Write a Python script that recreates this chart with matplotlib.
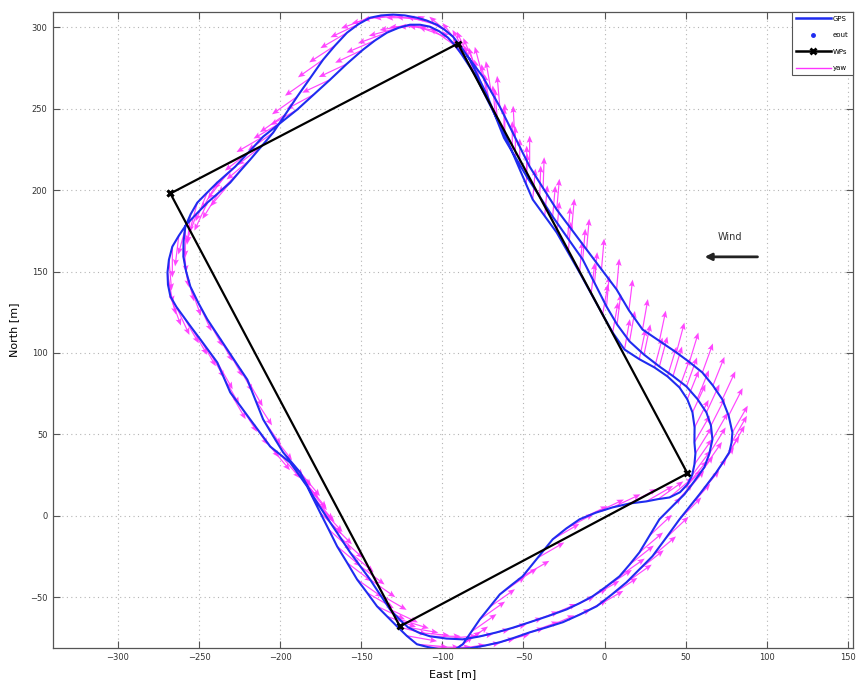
import numpy as np
import matplotlib
matplotlib.use("Agg")
import matplotlib.pyplot as plt
from matplotlib.lines import Line2D

# ---- data (metres) ----
gps_east = [
    -96.6, -92.0, -87.4, -82.2, -76.9, -70.8, -64.6, -57.6, -50.5, -41.3,
    -32.0, -23.7, -15.4, -5.3, 4.9, 15.4, 25.8, 33.0, 40.0, 46.5,
    51.1, 54.0, 55.4, 56.0, 55.4, 55.5, 54.2, 51.0, 46.2, 38.8,
    30.8, 21.4, 12.3, 5.0, -1.2, -8.3, -15.4, -22.4, -29.5, -36.9,
    -44.3, -48.3, -52.3, -56.9, -61.5, -66.1, -70.8, -75.4, -80.0, -84.0,
    -88.0, -92.0, -96.6, -102.0, -107.7, -113.8, -120.0, -127.0, -134.2, -141.6,
    -148.9, -159.0, -169.2, -179.4, -189.5, -200.0, -210.5, -219.1, -227.7, -233.3,
    -238.8, -245.0, -251.1, -255.2, -258.5, -259.6, -259.7, -258.0, -255.4, -250.4,
    -244.9, -238.8, -232.6, -226.5, -220.3, -215.4, -210.5, -204.4, -198.2, -193.0,
    -187.7, -183.7, -179.7, -174.5, -169.2, -163.0, -156.9, -150.8, -144.6, -138.5,
    -132.3, -126.5, -121.2, -114.5, -107.7, -97.5, -87.4, -77.0, -66.5, -56.4,
    -46.2, -34.8, -23.4, -15.4, -7.4, 0.9, 9.2, 15.4, 21.5, 27.6,
    33.8, 41.5, 49.2, 55.5, 61.5, 64.6, 66.5, 65.6, 62.8, 57.2,
    50.5, 42.2, 33.8, 24.3, 15.4, 7.7, 1.2, -6.2, -13.5, -22.8,
    -32.0, -40.0, -48.0, -55.0, -62.0, -67.3, -72.6, -77.9, -83.1, -88.3,
    -93.5, -98.5, -103.4, -109.5, -115.7, -123.1, -130.5, -137.6, -144.6, -151.8,
    -158.8, -166.2, -173.5, -181.5, -189.5, -196.9, -204.3, -211.4, -218.5, -224.7,
    -230.8, -237.9, -244.9, -251.4, -257.9, -262.5, -266.5, -268.6, -269.5, -269.2,
    -267.7, -264.0, -259.7, -254.5, -249.2, -244.0, -238.8, -234.8, -230.8, -224.6,
    -218.5, -212.3, -206.2, -200.0, -193.9, -188.6, -183.4, -179.4, -175.4, -170.1,
    -164.9, -158.7, -152.6, -146.4, -140.3, -134.1, -128.0, -122.0, -115.7, -108.6,
    -101.5, -92.3, -83.1, -73.8, -64.6, -55.4, -46.2, -36.0, -25.8, -15.3,
    -4.9, 4.3, 13.5, 21.5, 29.5, 37.9, 46.2, 52.4, 58.5, 63.7,
    68.9, 73.0, 76.9, 78.3, 78.8, 76.5, 72.6, 66.8, 60.3, 52.3,
    44.3, 33.8, 23.4, 15.0, 7.4, -1.9, -11.1, -20.3, -29.5, -37.9,
    -46.2, -55.4, -64.6, -69.9, -75.1, -79.7, -84.3]
gps_north = [
    -85.0, -81.9, -78.8, -71.2, -63.5, -55.9, -48.2, -42.6, -37.1, -25.8,
    -14.4, -7.8, -2.1, 2.0, 5.2, 7.6, 8.9, 10.3, 11.3, 14.5,
    19.3, 25.0, 31.6, 38.3, 45.1, 54.3, 63.5, 71.6, 78.8, 85.6,
    91.1, 96.2, 102.1, 112.5, 123.6, 136.5, 149.4, 161.6, 173.9, 184.0,
    194.2, 203.4, 212.6, 223.3, 234.1, 243.3, 252.5, 261.7, 270.9, 277.0,
    283.1, 288.6, 293.6, 297.5, 300.3, 301.5, 301.5, 299.6, 296.6, 291.8,
    286.2, 277.4, 267.8, 258.6, 249.4, 241.1, 232.8, 223.6, 214.4, 209.5,
    204.6, 198.5, 192.3, 185.2, 177.6, 168.4, 159.2, 150.0, 140.8, 130.6,
    120.6, 111.4, 102.1, 92.9, 83.7, 71.5, 59.2, 49.1, 39.0, 32.9,
    26.7, 19.4, 12.0, 4.0, -4.0, -13.2, -22.4, -30.7, -39.0, -48.2,
    -57.4, -63.5, -68.4, -71.7, -73.9, -75.3, -75.8, -74.0, -71.5, -68.6,
    -65.3, -61.5, -57.4, -53.6, -49.4, -43.5, -37.1, -29.9, -22.4, -12.3,
    -2.1, 5.6, 13.2, 21.5, 29.8, 38.2, 46.9, 55.4, 63.5, 71.8,
    79.4, 85.8, 91.7, 99.0, 107.1, 117.5, 128.5, 143.0, 157.4, 170.6,
    183.7, 196.0, 208.3, 220.2, 232.0, 245.3, 258.6, 269.4, 280.1, 287.6,
    294.2, 298.3, 301.5, 304.0, 305.8, 307.2, 307.7, 307.2, 305.8, 301.8,
    296.6, 288.7, 280.1, 268.8, 257.4, 246.4, 235.3, 227.0, 218.7, 211.7,
    204.6, 198.4, 192.3, 185.6, 178.8, 172.0, 165.3, 157.3, 149.4, 142.0,
    134.7, 128.3, 122.4, 115.3, 108.3, 101.3, 94.2, 85.0, 75.8, 67.5,
    59.2, 50.9, 42.6, 37.7, 32.8, 25.4, 18.1, 10.1, 2.1, -8.3,
    -18.7, -28.8, -39.0, -47.2, -55.5, -61.7, -67.8, -73.6, -78.8, -80.6,
    -81.9, -81.8, -81.3, -79.6, -77.6, -74.7, -71.5, -68.5, -65.3, -60.6,
    -55.5, -48.4, -40.8, -32.8, -24.8, -13.5, -2.1, 5.6, 13.2, 20.0,
    26.7, 32.9, 39.0, 45.0, 51.2, 61.5, 71.5, 80.0, 88.0, 94.4,
    100.3, 107.4, 114.4, 126.2, 139.0, 151.3, 163.5, 175.8, 188.0, 201.2,
    214.4, 232.8, 251.2, 260.4, 269.6, 275.8, 281.9]
# heading in degrees, clockwise from north, one per GPS sample
yaw_deg = [
    55, 55, 55, 55, 55, 55, 55, 57, 60, 60,
    60, 62, 65, 65, 65, 62, 60, 55, 50, 45,
    40, 37, 35, 32, 30, 27, 25, 22, 20, 17,
    15, 12, 10, 10, 10, 7, 5, 5, 5, 5,
    5, 2, 0, 0, 0, 355, 350, 345, 340, 330,
    320, 305, 290, 280, 270, 265, 260, 255, 250, 247,
    245, 245, 245, 242, 240, 240, 240, 232, 225, 217,
    210, 202, 195, 187, 180, 175, 170, 165, 160, 155,
    150, 150, 150, 150, 150, 147, 145, 142, 140, 140,
    140, 140, 140, 137, 135, 132, 130, 127, 125, 120,
    115, 107, 100, 95, 90, 85, 80, 77, 75, 72,
    70, 67, 65, 62, 60, 57, 55, 52, 50, 47,
    45, 42, 40, 37, 35, 32, 30, 27, 25, 22,
    20, 17, 15, 12, 10, 7, 5, 5, 5, 5,
    5, 2, 0, 0, 0, 355, 350, 342, 335, 322,
    310, 297, 285, 277, 270, 265, 260, 255, 250, 245,
    240, 237, 235, 235, 235, 235, 235, 232, 230, 225,
    220, 212, 205, 200, 195, 187, 180, 175, 170, 165,
    160, 155, 150, 150, 150, 150, 150, 150, 150, 147,
    145, 142, 140, 140, 140, 140, 140, 137, 135, 132,
    130, 127, 125, 120, 115, 110, 105, 100, 95, 90,
    85, 82, 80, 77, 75, 72, 70, 67, 65, 62,
    60, 57, 55, 52, 50, 47, 45, 42, 40, 37,
    35, 32, 30, 30, 30, 27, 25, 22, 20, 17,
    15, 12, 10, 7, 5, 5, 5, 5, 5, 2,
    0, 357, 355, 350, 345, 337, 330]
eout_east = []
eout_north = []
wp_east = [-267.7, -90.5, 51.1, -126.2, -267.7]
wp_north = [197.9, 289.9, 26.1, -67.8, 197.9]
xticks = [-300, -250, -200, -150, -100, -50, 0, 50, 100, 150]
yticks = [-50, 0, 50, 100, 150, 200, 250, 300]
arrow_len = 19.0

fig = plt.figure(figsize=(8.57, 6.87), dpi=100)
ax = fig.add_axes([0.062, 0.057, 0.933, 0.926])

yaw = np.radians(yaw_deg)
u = arrow_len * np.sin(yaw)
v = arrow_len * np.cos(yaw)
ax.quiver(gps_east, gps_north, u, v, angles='xy', scale_units='xy', scale=1,
          color='#ff33ff', width=0.0015, headwidth=5, headlength=6,
          headaxislength=5.0, alpha=0.9, zorder=2)

ax.plot(gps_east, gps_north, color='#1f2cf0', lw=1.5, zorder=3)
ax.plot(eout_east, eout_north, '.', color='#1f2cf0')
ax.plot(wp_east, wp_north, color='black', lw=1.6, marker='x', ms=4, mew=2, zorder=4)

# wind
ax.text(77, 171, 'Wind', fontsize=7, color='#333333', ha='center', va='center')
ax.annotate('', xy=(60, 159), xytext=(96, 159),
            arrowprops=dict(arrowstyle='-|>', lw=2, color='#222222', mutation_scale=10))

ax.set_xlim(-340, 153)
ax.set_ylim(-81, 309.5)
ax.set_xticks(xticks)
ax.set_yticks(yticks)
ax.tick_params(direction='in', length=5, top=True, right=True, labelsize=6,
               labelcolor='#333333', color='#555555', pad=4)
ax.grid(True, color='#b5b5b5', linestyle=(0, (1, 3)), lw=0.8)
for s in ax.spines.values():
    s.set_color('#555555')
    s.set_linewidth(0.9)
ax.set_xlabel('East [m]', fontsize=8, labelpad=5)
ax.set_ylabel('North [m]', fontsize=8, labelpad=8)

handles = [Line2D([], [], color='#1f2cf0', lw=1.8),
           Line2D([], [], color='#1f2cf0', marker='.', ls='none', ms=5),
           Line2D([], [], color='black', lw=1.8, marker='x', ms=4, mew=2),
           Line2D([], [], color='#ff33ff', lw=1)]
leg = ax.legend(handles, ['GPS', 'eout', 'WPs', 'yaw'], loc='upper right',
                fontsize=5, handlelength=5, labelspacing=1.5, borderpad=0.6,
                handletextpad=0.3, borderaxespad=0.0, fancybox=False,
                framealpha=1, edgecolor='#555555')
leg.get_frame().set_linewidth(0.8)

fig.savefig('out.png', dpi=100)
